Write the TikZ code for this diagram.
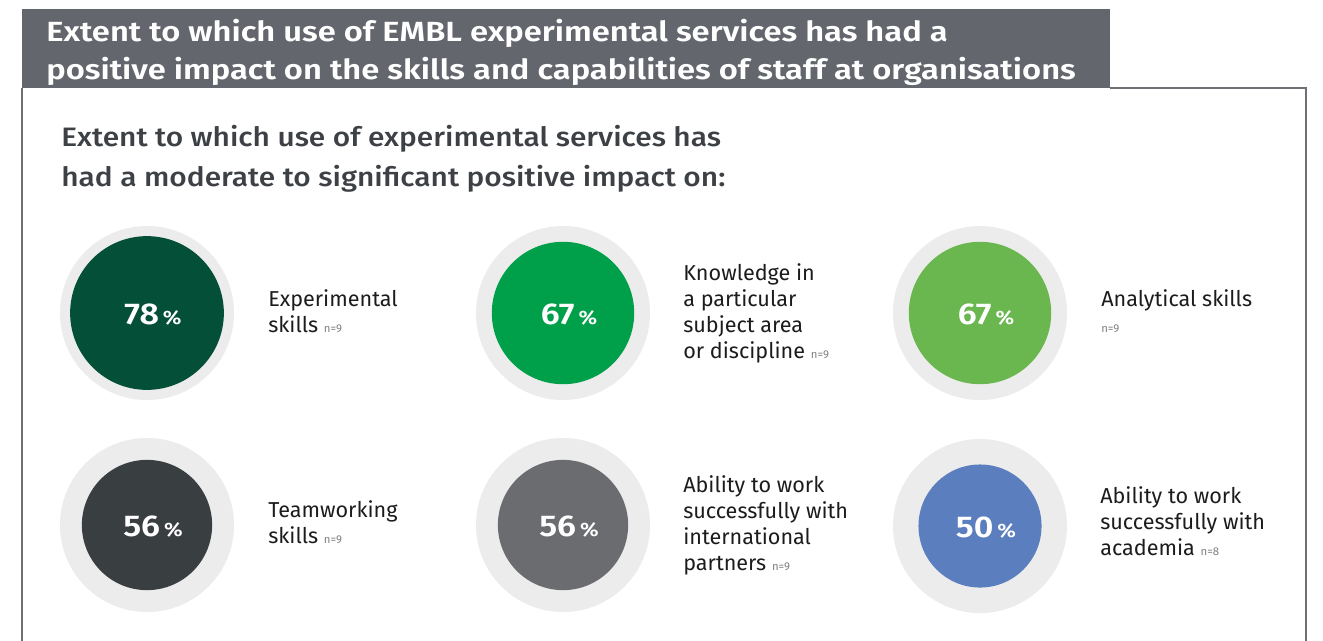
\documentclass[tikz,border=0pt]{standalone}
\usepackage{graphicx}
\usepackage{fontspec}
\setmainfont{Fira Sans}
\IfFontExistsTF{Fira Sans SemiBold}{\newfontfamily\fsemi{Fira Sans SemiBold}}{\newcommand\fsemi{\bfseries}}
\IfFontExistsTF{Fira Sans Medium}{\newfontfamily\fmed{Fira Sans Medium}}{\newcommand\fmed{\bfseries}}
\definecolor{headgray}{HTML}{63666D}
\definecolor{bordergray}{HTML}{6E7075}
\definecolor{subgray}{HTML}{3D4145}
\definecolor{ringgray}{HTML}{ECECEC}
\definecolor{labelblack}{HTML}{1C1C1C}
\definecolor{ngray}{HTML}{808080}
\definecolor{cA}{HTML}{034F37}
\definecolor{cB}{HTML}{00A04B}
\definecolor{cC}{HTML}{6AB74F}
\definecolor{cD}{HTML}{393E41}
\definecolor{cE}{HTML}{6A6C6F}
\definecolor{cF}{HTML}{5B7EBF}
\newcommand\nnote[1]{{\fontsize{8.5}{8.5}\selectfont\color{ngray}n=#1}}
\newcommand\lbl[1]{\parbox[t]{200pt}{\raggedright\fontsize{16.2}{19.5}\selectfont #1}}
\tikzset{
  ring/.style={circle, fill=ringgray, inner sep=0, minimum size=130.5pt},
  disc/.style={circle, fill=#1, inner sep=0},
  pct/.style={anchor=base, inner sep=0, text=white},
  label/.style={anchor=base west, inner sep=0, text=labelblack}
}
\newcommand\pcttext[1]{\scalebox{1.13}[1]{{\fsemi\fontsize{22.5}{22.5}\selectfont #1} {\fsemi\fontsize{14.5}{15}\selectfont\%}}}
\begin{document}
\begin{tikzpicture}[x=0.75pt,y=-0.75pt]
\useasboundingbox (0,0) rectangle (1323,640);
\fill[white] (0,0) rectangle (1323,640);
% header band
\fill[headgray] (22,9) rectangle (1110,88);
\node[anchor=base west, inner sep=0, text=white] (title) at (46,41)
  {\scalebox{1.18}[1]{\parbox[t]{800pt}{\fsemi\fontsize{20.8}{28.5}\selectfont Extent to which use of EMBL experimental services has had a\\positive impact on the skills and capabilities of staff at organisations}}};
% frame
\coordinate (fTL) at (22,88);
\coordinate (fBL) at (22,641);
\coordinate (fHR) at (1110,88);
\coordinate (fTR) at (1306,88);
\coordinate (fBR) at (1306,641);
\draw[bordergray, line width=1.5pt] (fHR) -- (fTR) -- (fBR);
\draw[bordergray, line width=1.5pt] (fTL) -- (fBL);
% subtitle
\node[anchor=base west, inner sep=0, text=subgray] (sub) at (61,146)
  {\scalebox{1.12}[1]{\parbox[t]{600pt}{\fmed\fontsize{20}{30}\selectfont Extent to which use of experimental services has\\had a moderate to significant positive impact on:}}};
% circles
\node[ring] (o1) at (147,313) {};
\node[disc=cA, minimum size=115.3pt] (i1) at (o1) {};
\node[pct] (p1) at (153,324) {\pcttext{78}};
\node[ring] (o2) at (563,313) {};
\node[disc=cB, minimum size=106.8pt] (i2) at (o2) {};
\node[pct] (p2) at (569,324) {\pcttext{67}};
\node[ring] (o3) at (980,313) {};
\node[disc=cC, minimum size=106.8pt] (i3) at (o3) {};
\node[pct] (p3) at (986,324) {\pcttext{67}};
\node[ring] (o4) at (147,525) {};
\node[disc=cD, minimum size=97.7pt] (i4) at (o4) {};
\node[pct] (p4) at (153,536) {\pcttext{56}};
\node[ring] (o5) at (563,525) {};
\node[disc=cE, minimum size=97.7pt] (i5) at (o5) {};
\node[pct] (p5) at (569,536) {\pcttext{56}};
\node[ring] (o6) at (980,526) {};
\node[disc=cF, minimum size=92.3pt] (i6) at (o6) {};
\node[pct] (p6) at (986,537) {\pcttext{50}};
% labels
\node[label] (l1) at (268,306) {\lbl{Experimental\\skills \nnote{9}}};
\node[label] (l2) at (683,280) {\lbl{Knowledge in\\a particular\\subject area\\or discipline \nnote{9}}};
\node[label] (l3) at (1101,306) {\lbl{Analytical skills\\\nnote{9}}};
\node[label] (l4) at (268,517) {\lbl{Teamworking\\skills \nnote{9}}};
\node[label] (l5) at (683,492) {\lbl{Ability to work\\successfully with\\international\\partners \nnote{9}}};
\node[label] (l6) at (1100,503) {\lbl{Ability to work\\successfully with\\academia \nnote{8}}};
\end{tikzpicture}
\end{document}
